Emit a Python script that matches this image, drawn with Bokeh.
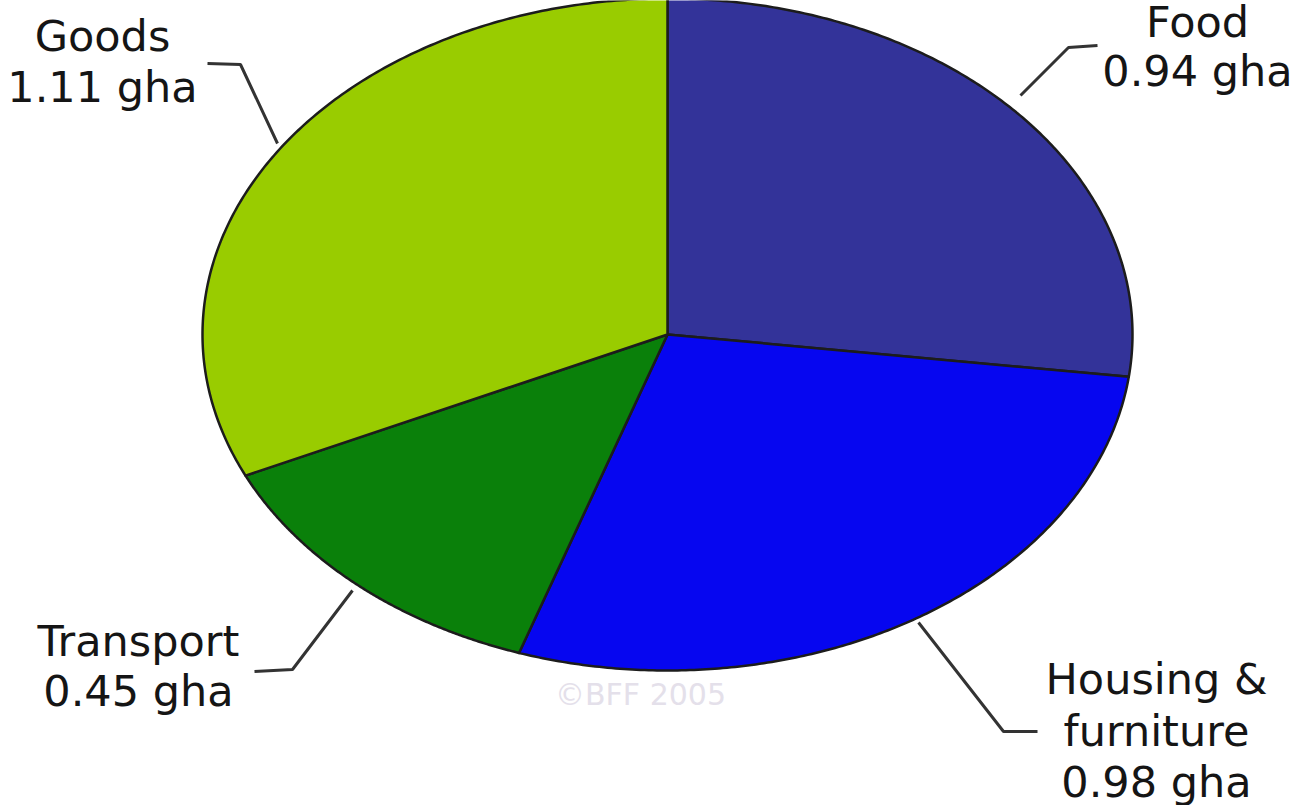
import numpy as np
from bokeh.plotting import figure
from bokeh.models import Range1d, ColumnDataSource
from bokeh.core.properties import value
from bokeh.embed import file_html
from bokeh.resources import INLINE

# ---- data ----
categories = ["Food", "Housing & furniture", "Transport", "Goods"]
values = [0.94, 0.98, 0.45, 1.11]
label_lines = [["Food", "0.94 gha"],
               ["Housing &", "furniture", "0.98 gha"],
               ["Transport", "0.45 gha"],
               ["Goods", "1.11 gha"]]
colors = ["#333399", "#0606f0", "#0a800a", "#99cc00"]
watermark = "\u00a9BFF 2005"

# ---- layout (pixel space, y downwards) ----
W, H = 1296, 805
cx, cy, rx, ry = 667, 334, 465, 336

p = figure(width=W, height=H, output_backend="svg", toolbar_location=None,
           x_range=Range1d(0, W), y_range=Range1d(H, 0), min_border=0)
p.axis.visible = False
p.grid.visible = False
p.outline_line_color = None
p.background_fill_color = "white"

vals = np.array(values, dtype=float)
cum = np.concatenate([[0], np.cumsum(vals)]) / vals.sum() * 2 * np.pi
xs, ys = [], []
for a0, a1 in zip(cum[:-1], cum[1:]):
    t = np.linspace(a0, a1, 200)
    px = np.concatenate([[cx], cx + rx * np.sin(t), [cx]])
    py = np.concatenate([[cy], cy - ry * np.cos(t), [cy]])
    xs.append(px.tolist())
    ys.append(py.tolist())

src = ColumnDataSource(dict(xs=xs, ys=ys, color=colors, name=categories))
p.patches("xs", "ys", source=src, fill_color="color", line_color="#1c1c1c",
          line_width=2.5, line_join="round")

# leader lines (layout)
leaders = [
    ([1020, 1068, 1097], [95, 47, 45]),
    ([918, 1003, 1037], [622, 731, 731]),
    ([352, 292, 254], [590, 669, 671]),
    ([277, 240, 207], [143, 64, 63]),
]
p.multi_line([l[0] for l in leaders], [l[1] for l in leaders],
             line_color="#333333", line_width=3)

# labels (layout positions)
label_pos = [(1197, [21, 70]), (1156, [678, 730, 781]), (138, [640, 690]), (102, [35, 86])]
tx, ty, tt = [], [], []
for (x, yl), lines in zip(label_pos, label_lines):
    for yy, s in zip(yl, lines):
        tx.append(x); ty.append(yy); tt.append(s)
p.text(tx, ty, text=tt, text_font=value("DejaVu Sans"), text_font_size="43px",
       text_align="center", text_baseline="alphabetic", text_color="#151515")

p.text([640], [694], text=[watermark], text_font=value("DejaVu Sans"),
       text_font_size="30px", text_align="center", text_baseline="alphabetic",
       text_color="#e4e0ea")

open("out.html", "w").write(file_html(p, INLINE))
